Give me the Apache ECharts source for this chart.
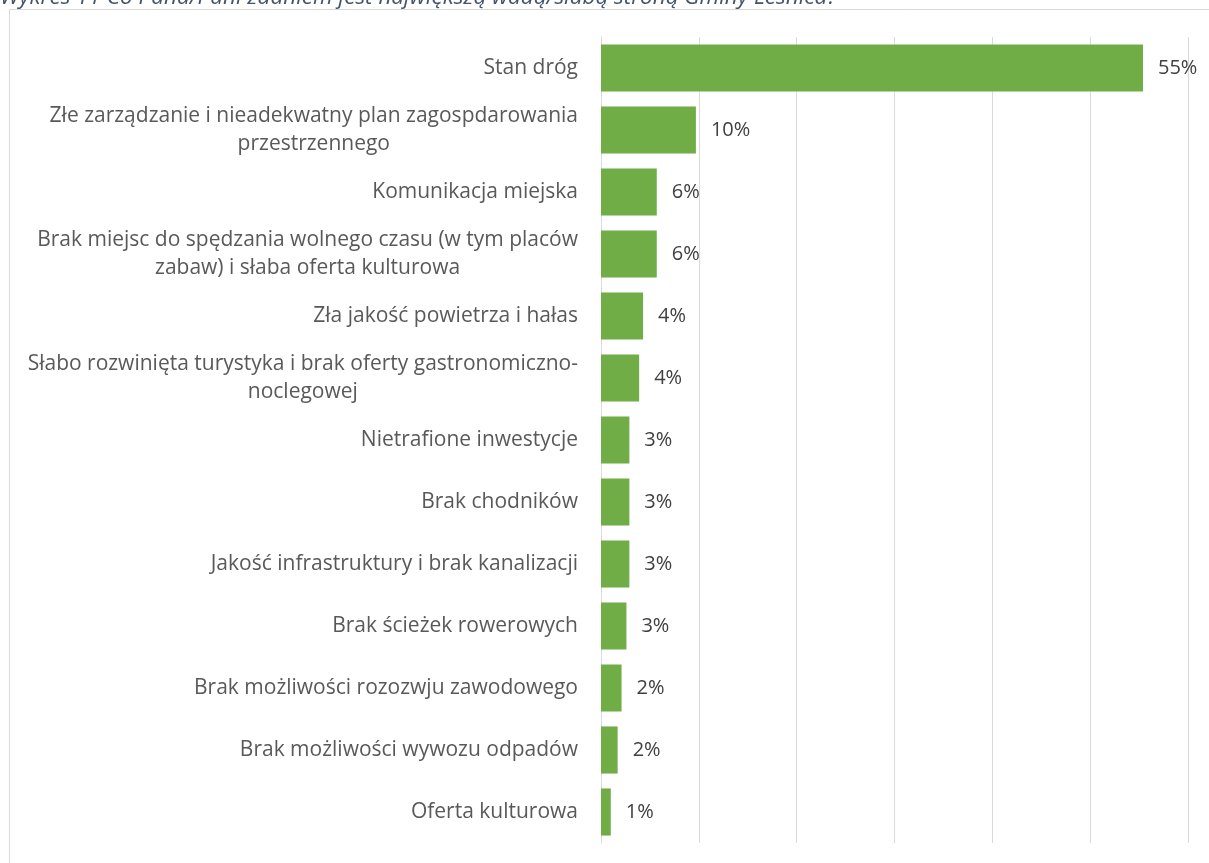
<!DOCTYPE html>
<html>
<head>
<meta charset="utf-8">
<script src="https://cdn.jsdelivr.net/npm/echarts@6/dist/echarts.min.js"></script>
<style>
  html, body { margin: 0; padding: 0; background: #fff; }
  #myChart { width: 1209px; height: 863px; }
</style>
</head>
<body>
<div id="myChart"></div>
<script>
  // kategorie od góry do dołu (tak jak na wykresie)
  var categories = [
    'Stan dróg',
    'Złe zarządzanie i nieadekwatny plan zagospdarowania\nprzestrzennego',
    'Komunikacja miejska',
    'Brak miejsc do spędzania wolnego czasu (w tym placów\nzabaw) i słaba oferta kulturowa',
    'Zła jakość powietrza i hałas',
    'Słabo rozwinięta turystyka i brak oferty gastronomiczno-\nnoclegowej',
    'Nietrafione inwestycje',
    'Brak chodników',
    'Jakość infrastruktury i brak kanalizacji',
    'Brak ścieżek rowerowych',
    'Brak możliwości rozozwju zawodowego',
    'Brak możliwości wywozu odpadów',
    'Oferta kulturowa'
  ];
  var values = [55.4, 9.7, 5.7, 5.7, 4.3, 3.9, 2.9, 2.9, 2.9, 2.6, 2.1, 1.7, 1.0];
  var titleText = 'Wykres 11 Co Pana/Pani zdaniem jest największą wadą/słabą stroną Gminy Leśnica?';

  var font = '"Open Sans", sans-serif';
  var myChart = echarts.init(document.getElementById('myChart'));

  var option = {
    animation: false,
    textStyle: { fontFamily: font },
    graphic: [
      {
        type: 'rect',
        shape: { x: 9.5, y: 9.5, width: 1400, height: 1000 },
        style: { fill: 'none', stroke: '#d9d9d9', lineWidth: 1 },
        silent: true
      },
      {
        type: 'text',
        left: 0,
        top: -14,
        style: {
          text: titleText,
          fill: '#44546a',
          font: 'italic 22.5px ' + font
        },
        silent: true
      }
    ],
    grid: {
      left: 601,
      right: 21,
      top: 37,
      bottom: 20,
      containLabel: false
    },
    xAxis: {
      type: 'value',
      min: 0,
      max: 60,
      interval: 10,
      axisLabel: { show: false },
      axisTick: { show: false },
      axisLine: { show: false },
      splitLine: { show: true, lineStyle: { color: '#d9d9d9', width: 1 } }
    },
    yAxis: {
      type: 'category',
      inverse: true,
      data: categories,
      axisTick: { show: false },
      axisLine: { show: true, lineStyle: { color: '#d9d9d9', width: 1 } },
      axisLabel: {
        margin: 23,
        align: 'right',
        color: '#595959',
        fontSize: 21,
        lineHeight: 28,
        formatter: function (v) {
          return v.split('\n').map(function (l) { return '{c|' + l + '}'; }).join('\n');
        },
        rich: {
          c: { align: 'center', color: '#595959', fontSize: 21, lineHeight: 28, fontFamily: font }
        }
      }
    },
    series: [
      {
        type: 'bar',
        data: values,
        barCategoryGap: '24%',
        itemStyle: { color: '#70ad47' },
        label: {
          show: true,
          position: 'right',
          distance: 15,
          color: '#404040',
          fontSize: 20,
          formatter: function (p) { return Math.round(p.value) + '%'; }
        }
      }
    ]
  };
  myChart.setOption(option);
</script>
</body>
</html>
